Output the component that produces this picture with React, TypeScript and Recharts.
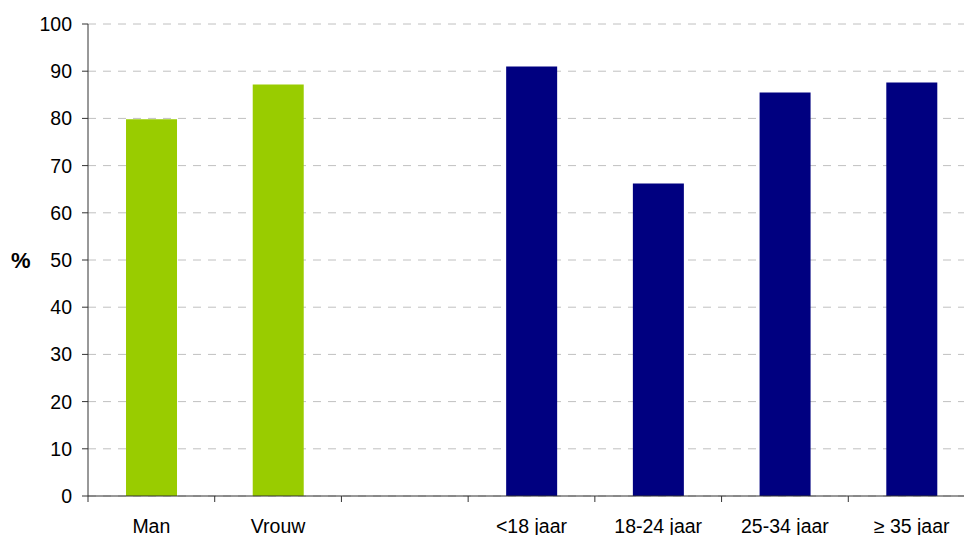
import React from 'react';
import { BarChart, Bar, XAxis, YAxis, CartesianGrid, Cell } from 'recharts';

const categories = ['Man', 'Vrouw', '', '<18 jaar', '18-24 jaar', '25-34 jaar', '≥ 35 jaar'];
const values: (number | null)[] = [79.8, 87.2, null, 91.0, 66.2, 85.5, 87.6];
const groups = ['geslacht', 'geslacht', '', 'leeftijd', 'leeftijd', 'leeftijd', 'leeftijd'];
const yTicks = [0, 10, 20, 30, 40, 50, 60, 70, 80, 90, 100];

const groupColors: Record<string, string> = { geslacht: '#99CC00', leeftijd: '#000080', '': '#ffffff' };

const data = categories.map((c, i) => ({ name: c, value: values[i], group: groups[i] }));

const font = 'Liberation Sans, Arial, sans-serif';
const X_TICK_SIZE = 6;
const X_TICK_MARGIN = 17;

const CategoryTick = (props: any) => {
  const { x, y, payload } = props;
  const half = payload && payload.offset ? payload.offset : 0;
  const axisY = y - X_TICK_MARGIN - X_TICK_SIZE;
  return (
    <g>
      <line x1={x - half} x2={x - half} y1={axisY} y2={axisY + X_TICK_SIZE} stroke="#333" />
      <text x={x} y={y} dy="0.71em" textAnchor="middle" fill="#000" fontSize={19.5} fontFamily={font}>
        {payload.value}
      </text>
    </g>
  );
};

export default function App() {
  return (
    <div style={{ position: 'absolute', left: 0, top: 0, width: 964, height: 535, overflow: 'hidden', background: '#fff' }}>
      <BarChart
        width={980}
        height={535}
        data={data}
        margin={{ top: 24, right: 5, bottom: 0, left: 0 }}
        barCategoryGap="30%"
      >
        <CartesianGrid vertical={false} stroke="#C0C0C0" strokeDasharray="8 7" />
        <XAxis
          dataKey="name"
          height={39}
          interval={0}
          tickLine={false}
          axisLine={{ stroke: '#333' }}
          tickSize={X_TICK_SIZE}
          tickMargin={X_TICK_MARGIN}
          tick={<CategoryTick />}
        />
        <YAxis
          width={88}
          domain={[0, 100]}
          ticks={yTicks}
          interval={0}
          tickLine={{ stroke: '#333' }}
          axisLine={{ stroke: '#333' }}
          tickSize={6}
          tickMargin={10}
          tick={{ fill: '#000', fontSize: 19.5, fontFamily: font }}
          label={{ value: '%', position: 'insideLeft', angle: 0, offset: 11, style: { fill: '#000', fontSize: 22, fontWeight: 'bold', fontFamily: font } }}
        />
        <Bar dataKey="value" isAnimationActive={false}>
          {data.map((d, i) => (
            <Cell key={i} fill={groupColors[d.group]} />
          ))}
        </Bar>
      </BarChart>
    </div>
  );
}
